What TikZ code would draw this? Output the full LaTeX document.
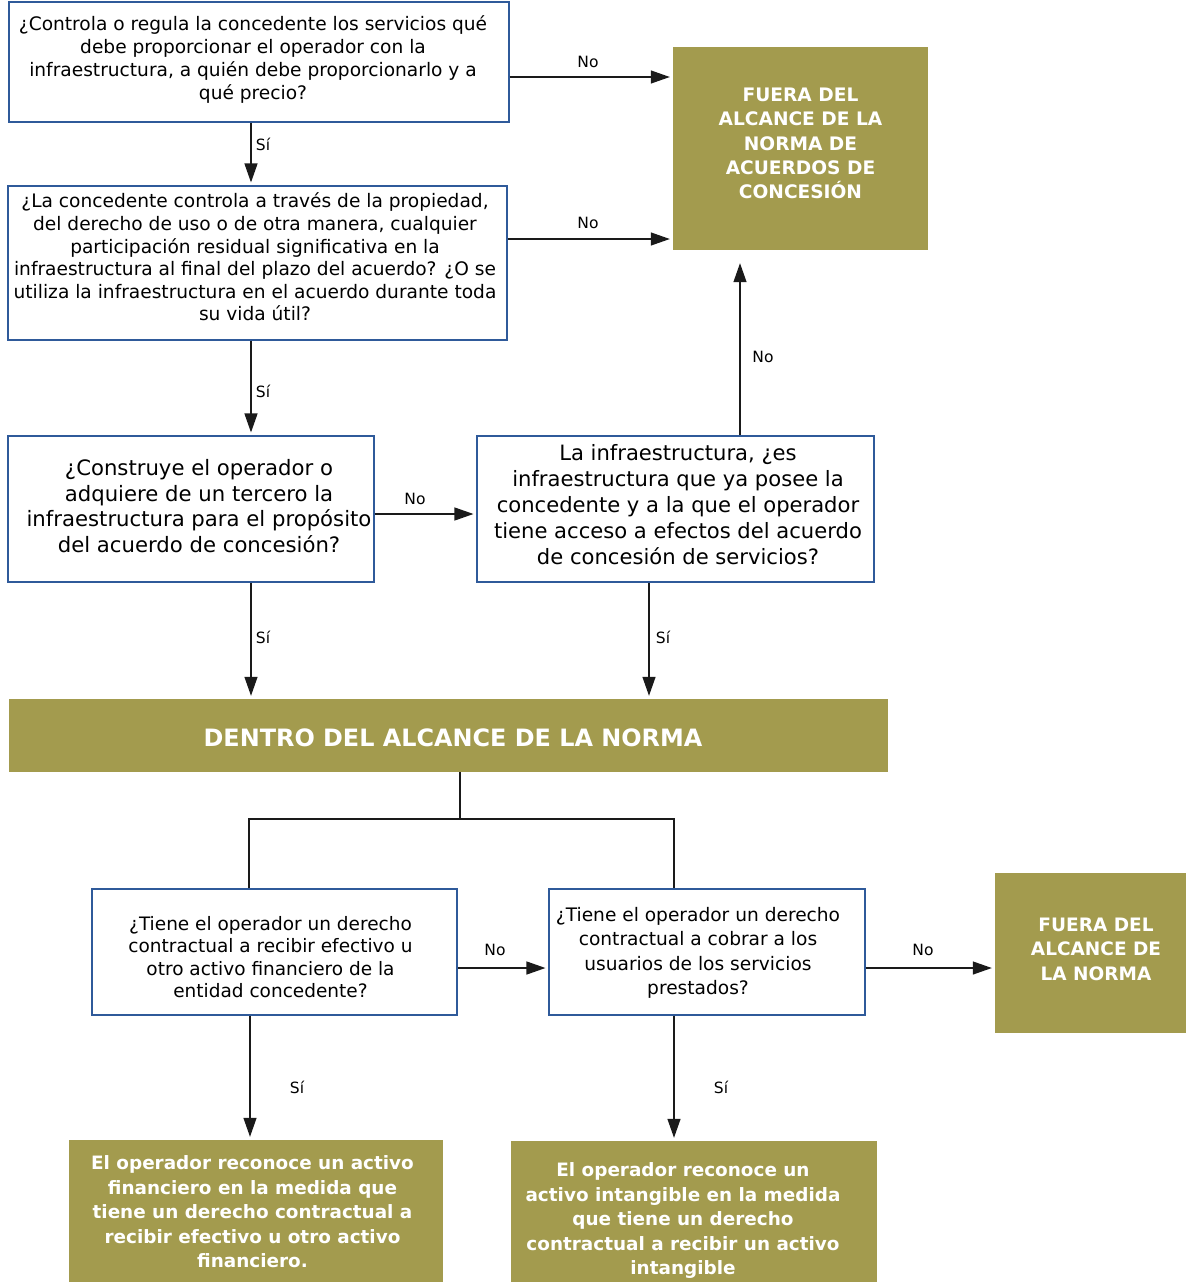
\documentclass[tikz,border=0pt]{standalone}
\usepackage{fontspec}
\setmainfont{DejaVu Sans}
\usetikzlibrary{arrows.meta}
\definecolor{olivebg}{HTML}{A39B4E}
\definecolor{boxblue}{HTML}{2F5A9A}
\definecolor{linegray}{HTML}{1A1A1A}
\begin{document}
\begin{tikzpicture}[x=1pt,y=-1pt,
  qbox/.style={draw=boxblue, line width=1.1pt, inner sep=0pt},
  obox/.style={fill=olivebg, inner sep=0pt},
  qtext/.style={align=center, inner sep=0pt, text=black},
  otext/.style={align=center, inner sep=0pt, text=white},
  arr/.style={draw=linegray, line width=1.3pt, -{Triangle[length=19pt,width=13pt]}, shorten >=3pt},
  conn/.style={draw=linegray, line width=1.3pt},
  lbl/.style={font=\fontsize{15.5}{17}\selectfont, inner sep=0pt}]
\useasboundingbox (0,0) rectangle (1186,1282);

% question boxes
\node[qbox, minimum width=500, minimum height=120] (b1) at (259,62) {};
\node[qtext, font=\fontsize{18.6}{23}\selectfont] (b1t) at (253,59)
  {¿Controla o regula la concedente los servicios qué\\debe proporcionar el operador con la\\infraestructura, a quién debe proporcionarlo y a\\qué precio?};
\node[qbox, minimum width=499, minimum height=154] (b2) at (257.5,263) {};
\node[qtext, font=\fontsize{18.6}{22.6}\selectfont] (b2t) at (255,257)
  {¿La concedente controla a través de la propiedad,\\del derecho de uso o de otra manera, cualquier\\participación residual significativa en la\\infraestructura al final del plazo del acuerdo? ¿O se\\utiliza la infraestructura en el acuerdo durante toda\\su vida útil?};
\node[qbox, minimum width=366, minimum height=146] (b3) at (191,509) {};
\node[qtext, font=\fontsize{21.2}{25.7}\selectfont] (b3t) at (199,506)
  {¿Construye el operador o\\adquiere de un tercero la\\infraestructura para el propósito\\del acuerdo de concesión?};
\node[qbox, minimum width=397, minimum height=146] (b4) at (675.5,509) {};
\node[qtext, font=\fontsize{21.1}{26}\selectfont] (b4t) at (678,505)
  {La infraestructura, ¿es\\infraestructura que ya posee la\\concedente y a la que el operador\\tiene acceso a efectos del acuerdo\\de concesión de servicios?};
\node[qbox, minimum width=365, minimum height=126] (b5) at (274.5,952) {};
\node[qtext, font=\fontsize{18.5}{22.5}\selectfont] (b5t) at (270.5,957)
  {¿Tiene el operador un derecho\\contractual a recibir efectivo u\\otro activo financiero de la\\entidad concedente?};
\node[qbox, minimum width=316, minimum height=126] (b6) at (707,952) {};
\node[qtext, font=\fontsize{18.6}{24.3}\selectfont] (b6t) at (698,953)
  {¿Tiene el operador un derecho\\contractual a cobrar a los\\usuarios de los servicios\\prestados?};

% olive boxes
\node[obox, minimum width=255, minimum height=203] (f1) at (800.5,148.5) {};
\node[otext, font=\bfseries\fontsize{18.6}{24.3}\selectfont] (f1t) at (800.5,143.5)
  {FUERA DEL\\ALCANCE DE LA\\NORMA DE\\ACUERDOS DE\\CONCESIÓN};
\node[obox, minimum width=879, minimum height=73] (dn) at (448.5,735.5) {};
\node[otext, font=\bfseries\fontsize{23.9}{26}\selectfont] (dnt) at (453,737.5)
  {DENTRO DEL ALCANCE DE LA NORMA};
\node[obox, minimum width=191, minimum height=160] (f2) at (1090.5,953) {};
\node[otext, font=\bfseries\fontsize{18.5}{24.5}\selectfont] (f2t) at (1096,949)
  {FUERA DEL\\ALCANCE DE\\LA NORMA};
\node[obox, minimum width=374, minimum height=142] (r1) at (256,1211) {};
\node[otext, font=\bfseries\fontsize{18.4}{24.5}\selectfont] (r1t) at (252.5,1212)
  {El operador reconoce un activo\\financiero en la medida que\\tiene un derecho contractual a\\recibir efectivo u otro activo\\financiero.};
\node[obox, minimum width=366, minimum height=141] (r2) at (694,1211.5) {};
\node[otext, font=\bfseries\fontsize{18.4}{24.5}\selectfont] (r2t) at (683,1220.5)
  {El operador reconoce un\\activo intangible en la medida\\que tiene un derecho\\contractual a recibir un activo\\intangible};

% connectors
\draw[arr] (b1.east |- 0,77) -- (f1.west |- 0,77);
\node[lbl] (l1) at (588,62) {No};
\draw[arr] (b1.south -| 251,0) -- (b2.north -| 251,0);
\node[lbl] (l2) at (263,144) {Sí};
\draw[arr] (b2.east |- 0,239) -- (f1.west |- 0,239);
\node[lbl] (l3) at (588,223) {No};
\draw[arr] (b2.south -| 251,0) -- (b3.north -| 251,0);
\node[lbl] (l4) at (263,391) {Sí};
\draw[arr] (b3.east |- 0,514) -- (b4.west |- 0,514);
\node[lbl] (l5) at (415,499) {No};
\draw[arr, shorten >=13pt] (b4.north -| 740,0) -- (f1.south -| 740,0);
\node[lbl] (l6) at (763,357) {No};
\draw[arr] (b3.south -| 251,0) -- (dn.north -| 251,0);
\node[lbl] (l7) at (263,637) {Sí};
\draw[arr] (b4.south -| 649,0) -- (dn.north -| 649,0);
\node[lbl] (l8) at (663,637) {Sí};

\coordinate (sp) at (460,819);
\draw[conn] (dn.south -| sp) -- (sp);
\draw[conn] (b5.north -| 249,0) |- (sp) -| (b6.north -| 674,0);

\draw[arr] (b5.east |- 0,968) -- (b6.west |- 0,968);
\node[lbl] (l9) at (495,950) {No};
\draw[arr] (b6.east |- 0,968) -- (f2.west |- 0,968);
\node[lbl] (l10) at (923,950) {No};
\draw[arr] (b5.south -| 250,0) -- (r1.north -| 250,0);
\node[lbl] (l11) at (297,1087) {Sí};
\draw[arr] (b6.south -| 674,0) -- (r2.north -| 674,0);
\node[lbl] (l12) at (721,1087) {Sí};
\end{tikzpicture}
\end{document}
